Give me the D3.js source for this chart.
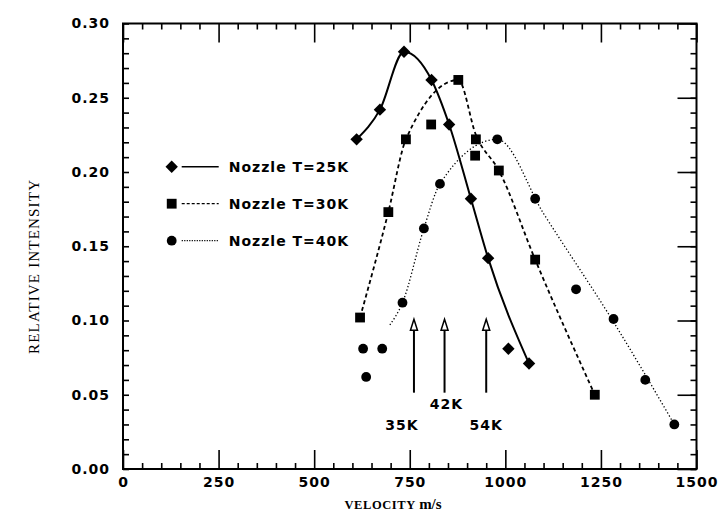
<!DOCTYPE html>
<html>
<head>
<meta charset="utf-8">
<script src="https://cdn.jsdelivr.net/npm/d3@7/dist/d3.min.js"></script>
<style>
    body { margin: 0; background: #fff; }
    .lbl { font-family: "DejaVu Sans", sans-serif; font-weight: bold; font-size: 14px; letter-spacing: 1px; fill: #000; }
</style>
</head>
<body>
<div id="chart"></div>
<script>
(function() {
    // measured points (velocity m/s, relative intensity)
    var v25 = [611, 672, 735, 807, 853, 910, 955, 1008, 1062];
    var i25 = [0.222, 0.242, 0.281, 0.262, 0.232, 0.182, 0.142, 0.081, 0.071];

    var v30 = [620, 694, 740, 806, 877, 921, 923, 983, 1078, 1234];
    var i30 = [0.102, 0.173, 0.222, 0.232, 0.262, 0.211, 0.222, 0.201, 0.141, 0.050];

    var v40 = [636, 628, 678, 731, 787, 829, 979, 1078, 1185, 1283, 1366, 1442];
    var i40 = [0.062, 0.081, 0.081, 0.112, 0.162, 0.192, 0.222, 0.182, 0.121, 0.101, 0.060, 0.030];

    // the drawn fit curves
    var fit25v = [611, 672, 735, 807, 853, 910, 955, 1062];
    var fit25i = [0.222, 0.242, 0.281, 0.262, 0.232, 0.182, 0.142, 0.071];
    var fit30v = [620, 694, 740, 877, 923, 983, 1078, 1234];
    var fit30i = [0.102, 0.173, 0.222, 0.262, 0.225, 0.201, 0.141, 0.050];
    var fit40v = [698, 731, 787, 829, 979, 1100, 1283, 1442];
    var fit40i = [0.097, 0.112, 0.162, 0.192, 0.222, 0.172, 0.099, 0.030];

    var legendLabels = ["Nozzle T=25K", "Nozzle T=30K", "Nozzle T=40K"];

    // arrows marking velocities for source temperatures
    var arrowV = [761, 841, 950];
    var arrowLabels = ["35K", "42K", "54K"];
    var arrowFrom = 0.0514, arrowTo = 0.1008;

    var xTicks = [0, 250, 500, 750, 1000, 1250, 1500];
    var yTicks = [0, 0.05, 0.10, 0.15, 0.20, 0.25, 0.30];

    var margin = { top: 23.5, left: 123, right: 21.5, bottom: 47 },
        width = 718 - margin.left - margin.right,
        height = 516 - margin.top - margin.bottom;

    var x = d3.scaleLinear().domain([0, 1500]).range([0, width]);
    var y = d3.scaleLinear().domain([0, 0.30]).range([height, 0]);

    var svg = d3.select("#chart")
        .append("svg")
        .attr("width", 718)
        .attr("height", 516)
        .append("g")
        .attr("transform", "translate(" + margin.left + "," + margin.top + ")");

    var xMinor = d3.range(0, 1501, 50).filter(function(d) { return d % 250 !== 0; });
    var yMinor = d3.range(0, 31, 1).map(function(d) { return d / 100; });

    function styleAxis(g) {
        g.select(".domain").remove();
        g.selectAll("line").attr("stroke", "#000").attr("stroke-width", 1.6);
        g.selectAll("text").attr("class", "lbl").attr("font-family", null).attr("font-size", null);
    }

    // bottom
    svg.append("g").attr("transform", "translate(0," + height + ")")
        .call(d3.axisBottom(x).tickValues(xMinor).tickSize(-6).tickFormat(""))
        .call(styleAxis);
    svg.append("g").attr("transform", "translate(0," + height + ")")
        .call(d3.axisBottom(x).tickValues(xTicks).tickSize(-19).tickPadding(8).tickFormat(d3.format("d")))
        .call(styleAxis);
    // top
    svg.append("g")
        .call(d3.axisTop(x).tickValues(xMinor).tickSize(-6).tickFormat(""))
        .call(styleAxis);
    svg.append("g")
        .call(d3.axisTop(x).tickValues(xTicks).tickSize(-19).tickFormat(""))
        .call(styleAxis);
    // left: all short ticks
    svg.append("g")
        .call(d3.axisLeft(y).tickValues(yMinor).tickSize(-6).tickFormat(""))
        .call(styleAxis);
    svg.append("g")
        .call(d3.axisLeft(y).tickValues(yTicks).tickSize(0).tickPadding(13).tickFormat(d3.format(".2f")))
        .call(styleAxis);
    // right
    svg.append("g").attr("transform", "translate(" + width + ",0)")
        .call(d3.axisRight(y).tickValues(yMinor).tickSize(-6).tickFormat(""))
        .call(styleAxis);
    svg.append("g").attr("transform", "translate(" + width + ",0)")
        .call(d3.axisRight(y).tickValues(yTicks).tickSize(-19).tickFormat(""))
        .call(styleAxis);

    svg.append("rect")
        .attr("width", width)
        .attr("height", height)
        .attr("fill", "none")
        .attr("stroke", "#000")
        .attr("stroke-width", 2);

    // axis titles
    svg.append("text")
        .attr("transform", "translate(" + (39 - margin.left) + "," + (267 - margin.top) + ") rotate(-90)")
        .attr("text-anchor", "middle")
        .attr("font-family", "Liberation Serif, serif")
        .attr("font-size", 15)
        .attr("textLength", 174)
        .text("RELATIVE INTENSITY");

    var xt = svg.append("text")
        .attr("x", 393 - margin.left)
        .attr("y", 509 - margin.top)
        .attr("text-anchor", "middle")
        .attr("font-family", "Liberation Serif, serif")
        .attr("font-weight", "bold");
    xt.append("tspan").attr("font-size", 12.5).attr("letter-spacing", 0.6).text("VELOCITY ");
    xt.append("tspan").attr("font-size", 15).text("m/s");

    // curves
    function zip(vs, is) {
        return vs.map(function(v, k) { return { v: v, i: is[k] }; });
    }

    var line = d3.line()
        .x(function(d) { return x(d.v); })
        .y(function(d) { return y(d.i); })
        .curve(d3.curveMonotoneX);

    svg.append("path")
        .datum(zip(fit25v, fit25i))
        .attr("d", line)
        .attr("fill", "none")
        .attr("stroke", "#000")
        .attr("stroke-width", 2);

    svg.append("path")
        .datum(zip(fit30v, fit30i))
        .attr("d", line)
        .attr("fill", "none")
        .attr("stroke", "#000")
        .attr("stroke-width", 1.8)
        .attr("stroke-dasharray", "4,3");

    svg.append("path")
        .datum(zip(fit40v, fit40i))
        .attr("d", line)
        .attr("fill", "none")
        .attr("stroke", "#000")
        .attr("stroke-width", 1.3)
        .attr("stroke-dasharray", "1.3,2.2");

    // markers
    var diamond = "M0,-6.2L6.2,0L0,6.2L-6.2,0Z";

    svg.selectAll(".p25")
        .data(zip(v25, i25))
        .enter().append("path")
        .attr("class", "p25")
        .attr("d", diamond)
        .attr("transform", function(d) { return "translate(" + x(d.v) + "," + y(d.i) + ")"; })
        .attr("fill", "#000");

    svg.selectAll(".p30")
        .data(zip(v30, i30))
        .enter().append("rect")
        .attr("class", "p30")
        .attr("x", function(d) { return x(d.v) - 4.9; })
        .attr("y", function(d) { return y(d.i) - 4.9; })
        .attr("width", 9.8)
        .attr("height", 9.8)
        .attr("fill", "#000");

    svg.selectAll(".p40")
        .data(zip(v40, i40))
        .enter().append("circle")
        .attr("class", "p40")
        .attr("cx", function(d) { return x(d.v); })
        .attr("cy", function(d) { return y(d.i); })
        .attr("r", 4.9)
        .attr("fill", "#000");

    // arrows
    var arrows = svg.selectAll(".arrow")
        .data(arrowV)
        .enter().append("g")
        .attr("class", "arrow");

    arrows.append("line")
        .attr("x1", function(d) { return x(d); })
        .attr("x2", function(d) { return x(d); })
        .attr("y1", y(arrowFrom))
        .attr("y2", y(arrowTo) + 9)
        .attr("stroke", "#000")
        .attr("stroke-width", 2);

    arrows.append("path")
        .attr("d", function(d) {
            var ax = x(d), ay = y(arrowTo);
            return "M" + ax + "," + ay + "L" + (ax + 3.5) + "," + (ay + 11) + "L" + (ax - 3.5) + "," + (ay + 11) + "Z";
        })
        .attr("fill", "#fff")
        .attr("stroke", "#000")
        .attr("stroke-width", 1.5);

    var labelDy = [37, 16, 37];
    arrows.append("text")
        .attr("class", "lbl")
        .attr("x", function(d, k) { return x(d) + [-12, 2, 0][k]; })
        .attr("y", function(d, k) { return y(arrowFrom) + labelDy[k]; })
        .attr("text-anchor", "middle")
        .text(function(d, k) { return arrowLabels[k]; });

    // legend
    var legend = svg.append("g")
        .attr("transform", "translate(" + (171.7 - margin.left) + "," + (166.7 - margin.top) + ")");

    var dashes = [null, "3,2", "1.2,1.3"];
    var widths = [1.4, 1.2, 1.2];

    legendLabels.forEach(function(label, k) {
        var row = legend.append("g").attr("transform", "translate(0," + (k * 37) + ")");
        if (k === 0) {
            row.append("path").attr("d", diamond).attr("fill", "#000");
        } else if (k === 1) {
            row.append("rect").attr("x", -4.9).attr("y", -4.9).attr("width", 9.8).attr("height", 9.8).attr("fill", "#000");
        } else {
            row.append("circle").attr("r", 4.9).attr("fill", "#000");
        }
        row.append("line")
            .attr("x1", 10).attr("x2", 47)
            .attr("stroke", "#000")
            .attr("stroke-width", widths[k])
            .attr("stroke-dasharray", dashes[k]);
        row.append("text")
            .attr("class", "lbl")
            .attr("x", 57)
            .attr("y", 5)
            .text(label);
    });
})();
</script>
</body>
</html>
